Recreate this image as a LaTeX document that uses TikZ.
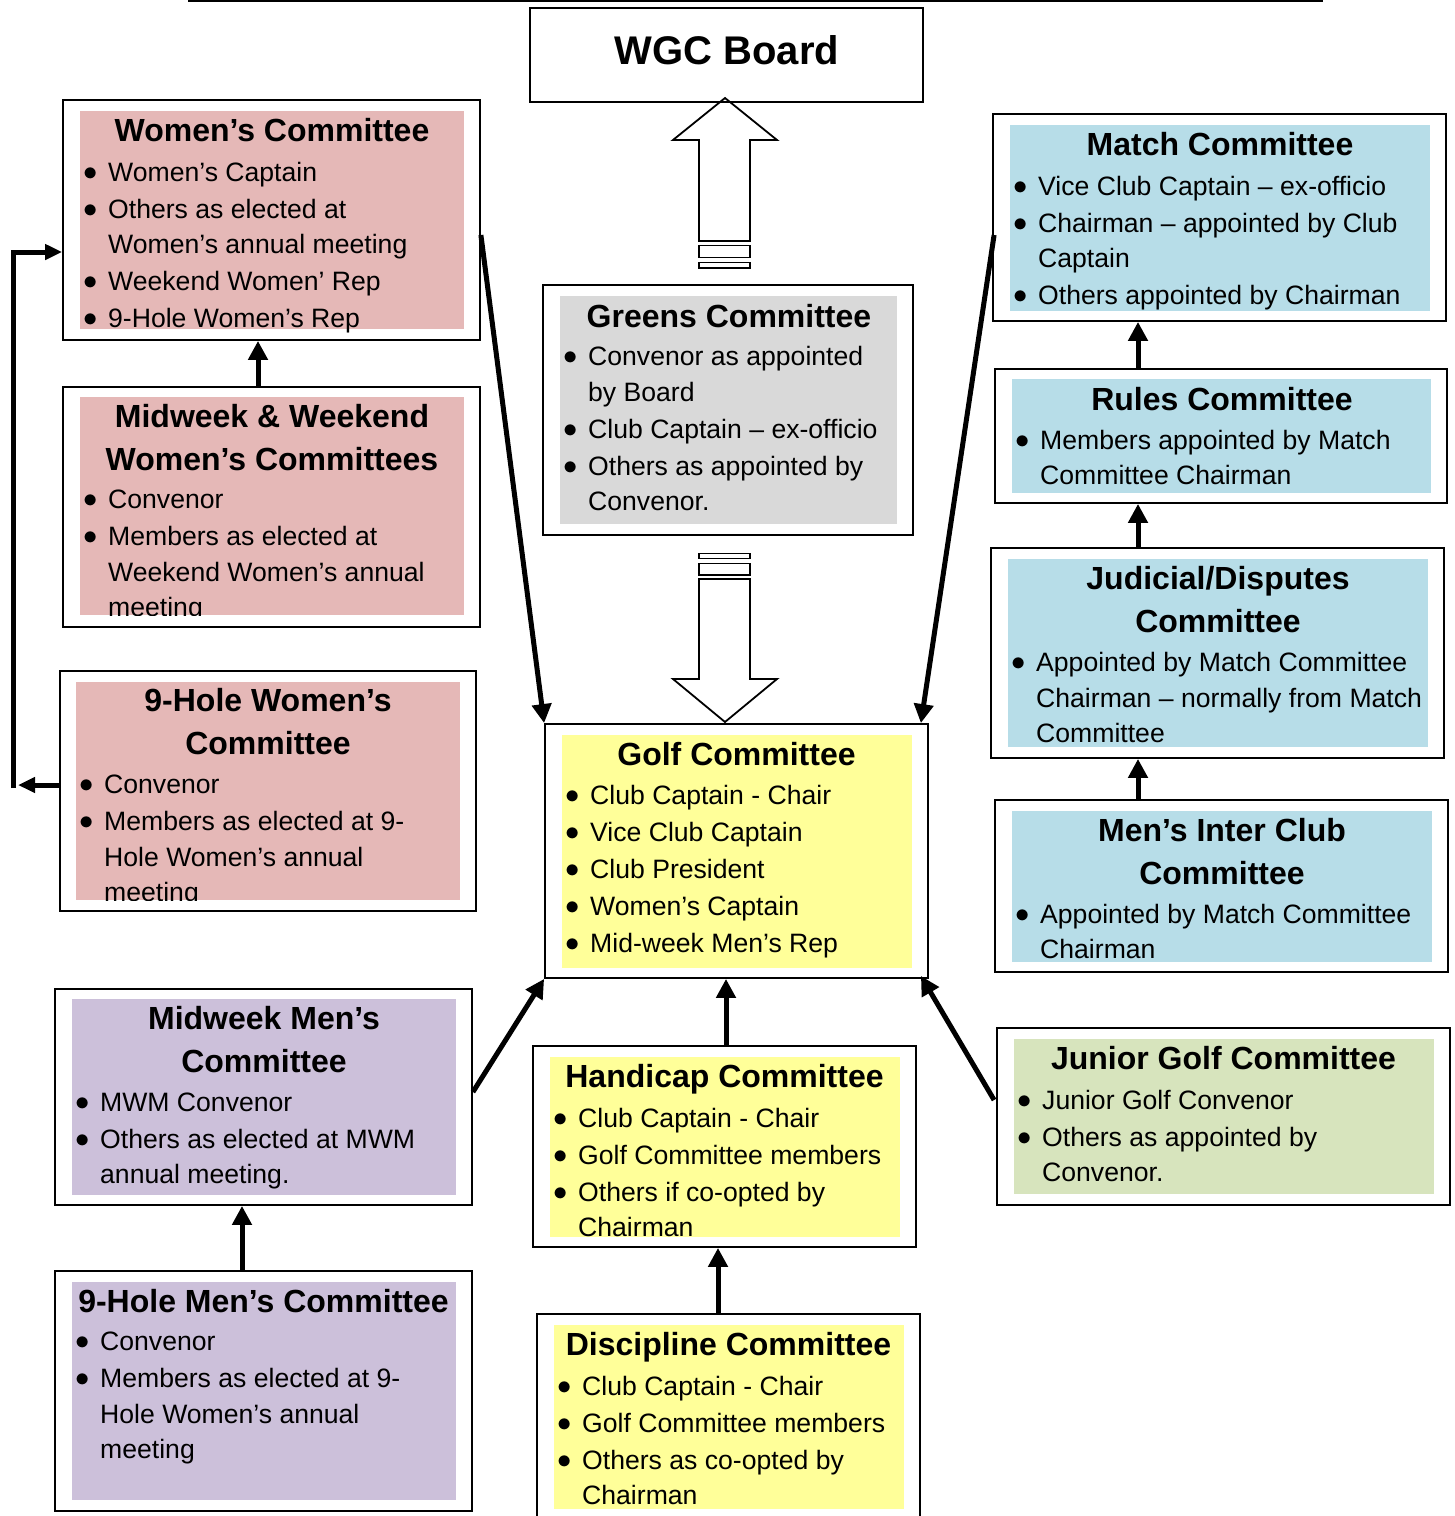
\documentclass[tikz,border=0pt]{standalone}
\usepackage{fontspec}
\setmainfont{Liberation Sans}
\usetikzlibrary{arrows.meta}

\definecolor{womenpink}{HTML}{E5B8B7}
\definecolor{greensgrey}{HTML}{D9D9D9}
\definecolor{golfyellow}{HTML}{FFFF99}
\definecolor{matchblue}{HTML}{B7DDE8}
\definecolor{menlilac}{HTML}{CCC0DA}
\definecolor{juniorgreen}{HTML}{D7E4BD}

\newcommand{\bu}{\makebox[22pt][l]{\kern-2.5pt\raisebox{1pt}{\scalebox{1.15}{$\bullet$}}}}
\newcommand{\nb}{\hspace*{22pt}}

\tikzset{
  committee/.style={draw, line width=1.8pt, inner sep=0pt},
  panel/.style={fill=#1, inner sep=0pt},
  ttl/.style={font=\bfseries\fontsize{32}{43}\selectfont, anchor=base, inner sep=0pt, align=center},
  items/.style={font=\fontsize{26.6}{35.5}\selectfont, anchor=base west, inner sep=0pt, align=left},
  arr/.style={line width=5pt, -{Triangle[length=19pt,width=19pt]}},
  backarr/.style={line width=5pt, -{Triangle[length=17pt,width=15pt]}},
  block/.style={line width=1.8pt, line join=miter}
}

\begin{document}
\begin{tikzpicture}[x=1pt, y=-1pt]
    \useasboundingbox (0,0) rectangle (1455,1516);
    \draw[line width=1.5pt] (188,1) -- (1323,1);

    % Board
    \node[committee, minimum width=393, minimum height=94] (board) at (726.5,55) {};
    \node[font=\bfseries\fontsize{40}{48}\selectfont, anchor=base, inner sep=0pt] (boardttl) at (727,64.3) {WGC Board};

    % hollow block arrows
    \draw[block] (699,241) -- (699,140) -- (673,140) -- (725,98) -- (777,140) -- (750,140) -- (750,241) -- cycle;
    \draw[block] (699,245.5) rectangle (750,257.5);
    \draw[block] (699,262.5) rectangle (750,268);
    \draw[block] (699,579) -- (699,679) -- (673,679) -- (725,722) -- (777,679) -- (750,679) -- (750,579) -- cycle;
    \draw[block] (699,553.5) rectangle (750,558.5);
    \draw[block] (699,563.5) rectangle (750,575);

    % Women's Committee (list anchored on its last line)
    \node[panel=womenpink, minimum width=384, minimum height=218] (womenbg) at (272,220) {};
    \node[committee, minimum width=417, minimum height=240] (women) at (271.5,220) {};
    \node[ttl] (womenttl) at (272,141.5) {Women’s Committee};
    \node[items] (womenlist) at (86,327.5) {\bu Women’s Captain\\[1.5pt] \bu Others as elected at\\ \nb Women’s annual meeting\\[1.5pt] \bu Weekend Women’ Rep\\[1.5pt] \bu 9-Hole Women’s Rep};

    % Midweek & Weekend Women's Committees
    \node[panel=womenpink, minimum width=384, minimum height=218] (midwomenbg) at (272,506) {};
    \node[committee, minimum width=417, minimum height=240] (midwomen) at (271.5,507) {};
    \node[ttl] (midwomenttl) at (272,470.5) {Midweek \& Weekend\\Women’s Committees};
    \begin{scope}
        \clip (80,397) rectangle (464,615);
        \node[items] (midwomenlist) at (86,616.5) {\bu Convenor\\[1.5pt] \bu Members as elected at\\ \nb Weekend Women’s annual\\ \nb meeting};
    \end{scope}

    % 9-Hole Women's Committee
    \node[panel=womenpink, minimum width=384, minimum height=218] (ninewomenbg) at (268,791) {};
    \node[committee, minimum width=416, minimum height=240] (ninewomen) at (268,791) {};
    \node[ttl] (ninewomenttl) at (268,754.5) {9-Hole Women’s\\Committee};
    \begin{scope}
        \clip (76,682) rectangle (460,900);
        \node[items] (ninewomenlist) at (82,901.5) {\bu Convenor\\[1.5pt] \bu Members as elected at 9-\\ \nb Hole Women’s annual\\ \nb meeting};
    \end{scope}

    % Midweek Men's Committee
    \node[panel=menlilac, minimum width=384, minimum height=196] (midmenbg) at (264,1097) {};
    \node[committee, minimum width=417, minimum height=216] (midmen) at (263.5,1097) {};
    \node[ttl] (midmenttl) at (264,1072.5) {Midweek Men’s\\Committee};
    \node[items] (midmenlist) at (78,1183.5) {\bu MWM Convenor\\[1.5pt] \bu Others as elected at MWM\\ \nb annual meeting.};

    % 9-Hole Men's Committee
    \node[panel=menlilac, minimum width=384, minimum height=218] (ninemenbg) at (264,1391) {};
    \node[committee, minimum width=417, minimum height=240] (ninemen) at (263.5,1391) {};
    \node[ttl] (ninementtl) at (263.5,1312.5) {9-Hole Men’s Committee};
    \node[items] (ninemenlist) at (78,1458.5) {\bu Convenor\\[1.5pt] \bu Members as elected at 9-\\ \nb Hole Women’s annual\\ \nb meeting};

    % Greens Committee
    \node[panel=greensgrey, minimum width=337, minimum height=228] (greensbg) at (728.5,410) {};
    \node[committee, minimum width=370, minimum height=250] (greens) at (728,410) {};
    \node[ttl] (greensttl) at (729,327.5) {Greens Committee};
    \node[items] (greenslist) at (566,510.5) {\bu Convenor as appointed\\ \nb by Board\\[1.5pt] \bu Club Captain -- ex-officio\\[1.5pt] \bu Others as appointed by\\ \nb Convenor.};

    % Golf Committee
    \node[panel=golfyellow, minimum width=350, minimum height=233] (golfbg) at (737,851.5) {};
    \node[committee, minimum width=383, minimum height=254] (golf) at (736.5,851) {};
    \node[ttl] (golfttl) at (736.5,765.5) {Golf Committee};
    \node[items] (golflist) at (568,952.5) {\bu Club Captain - Chair\\[1.5pt] \bu Vice Club Captain\\[1.5pt] \bu Club President\\[1.5pt] \bu Women’s Captain\\[1.5pt] \bu Mid-week Men’s Rep};

    % Handicap Committee
    \node[panel=golfyellow, minimum width=350, minimum height=180] (handicapbg) at (725,1147) {};
    \node[committee, minimum width=383, minimum height=201] (handicap) at (724.5,1146.5) {};
    \node[ttl] (handicapttl) at (724.5,1087.5) {Handicap Committee};
    \node[items] (handicaplist) at (556,1236.5) {\bu Club Captain - Chair\\[1.5pt] \bu Golf Committee members\\[1.5pt] \bu Others if co-opted by\\ \nb Chairman};

    % Discipline Committee
    \node[panel=golfyellow, minimum width=350, minimum height=184] (disciplinebg) at (729,1417) {};
    \node[committee, minimum width=383, minimum height=216] (discipline) at (728.5,1422) {};
    \node[ttl] (disciplinettl) at (728.5,1355.5) {Discipline Committee};
    \node[items] (disciplinelist) at (560,1504.5) {\bu Club Captain - Chair\\[1.5pt] \bu Golf Committee members\\[1.5pt] \bu Others as co-opted by\\ \nb Chairman};

    % Match Committee
    \node[panel=matchblue, minimum width=420, minimum height=186] (matchbg) at (1220,218) {};
    \node[committee, minimum width=453, minimum height=207] (match) at (1219.5,217.5) {};
    \node[ttl] (matchttl) at (1220,155.5) {Match Committee};
    \node[items] (matchlist) at (1016,304.5) {\bu Vice Club Captain -- ex-officio\\[1.5pt] \bu Chairman -- appointed by Club\\ \nb Captain\\[1.5pt] \bu Others appointed by Chairman};

    % Rules Committee
    \node[panel=matchblue, minimum width=419, minimum height=114] (rulesbg) at (1221.5,436) {};
    \node[committee, minimum width=452, minimum height=134] (rules) at (1221,436) {};
    \node[ttl] (rulesttl) at (1222,410.5) {Rules Committee};
    \node[items] (ruleslist) at (1018,484.5) {\bu Members appointed by Match\\ \nb Committee Chairman};

    % Judicial/Disputes Committee
    \node[panel=matchblue, minimum width=420, minimum height=188] (judicialbg) at (1218,653) {};
    \node[committee, minimum width=453, minimum height=210] (judicial) at (1217.5,653) {};
    \node[ttl] (judicialttl) at (1218,632.5) {Judicial/Disputes\\Committee};
    \node[items] (judiciallist) at (1014,742.5) {\bu Appointed by Match Committee\\ \nb Chairman -- normally from Match\\ \nb Committee};

    % Men's Inter Club Committee
    \node[panel=matchblue, minimum width=420, minimum height=151] (interclubbg) at (1222,886.5) {};
    \node[committee, minimum width=453, minimum height=172] (interclub) at (1221.5,886) {};
    \node[ttl] (interclubttl) at (1222,884.5) {Men’s Inter Club\\Committee};
    \node[items] (interclublist) at (1018,958.5) {\bu Appointed by Match Committee\\ \nb Chairman};

    % Junior Golf Committee
    \node[panel=juniorgreen, minimum width=420, minimum height=155] (juniorbg) at (1224,1116.5) {};
    \node[committee, minimum width=453, minimum height=177] (junior) at (1223.5,1116.5) {};
    \node[ttl] (juniorttl) at (1223.5,1069.5) {Junior Golf Committee};
    \node[items] (juniorlist) at (1020,1181.5) {\bu Junior Golf Convenor\\[1.5pt] \bu Others as appointed by\\ \nb Convenor.};

    % connectors
    \draw[arr] ([xshift=-13.5pt]midwomen.north) -- ([xshift=-13.5pt]women.south);
    \coordinate (loopbot) at (18,785);
    \coordinate (loopcorner) at (13,788);
    \draw[backarr] ([yshift=6pt]ninewomen.west) -- (loopbot);
    \draw[backarr] (loopcorner) |- ([yshift=-32pt]women.west);
    \draw[arr] ([yshift=-15pt]women.east) -- (golf.north west);
    \draw[arr] ([xshift=2pt,yshift=-17.5pt]match.west) -- ([xshift=-8pt]golf.north east);
    \draw[arr] ([xshift=-83pt]rules.north) -- ([xshift=-81.5pt]match.south);
    \draw[arr] ([xshift=-79.5pt]judicial.north) -- ([xshift=-83pt]rules.south);
    \draw[arr] ([xshift=-83.5pt]interclub.north) -- ([xshift=-79.5pt]judicial.south);
    \draw[arr] ([yshift=5pt]midmen.east) -- (golf.south west);
    \draw[arr] ([xshift=1.5pt]handicap.north) -- ([xshift=-10.5pt]golf.south);
    \draw[arr] ([xshift=-2pt,yshift=16.5pt]junior.west) -- ([xshift=-8pt,yshift=3pt]golf.south east);
    \draw[arr] ([xshift=-21.5pt]ninemen.north) -- ([xshift=-21.5pt]midmen.south);
    \draw[arr] ([xshift=-10.5pt]discipline.north) -- ([xshift=-6.5pt]handicap.south);
\end{tikzpicture}
\end{document}
